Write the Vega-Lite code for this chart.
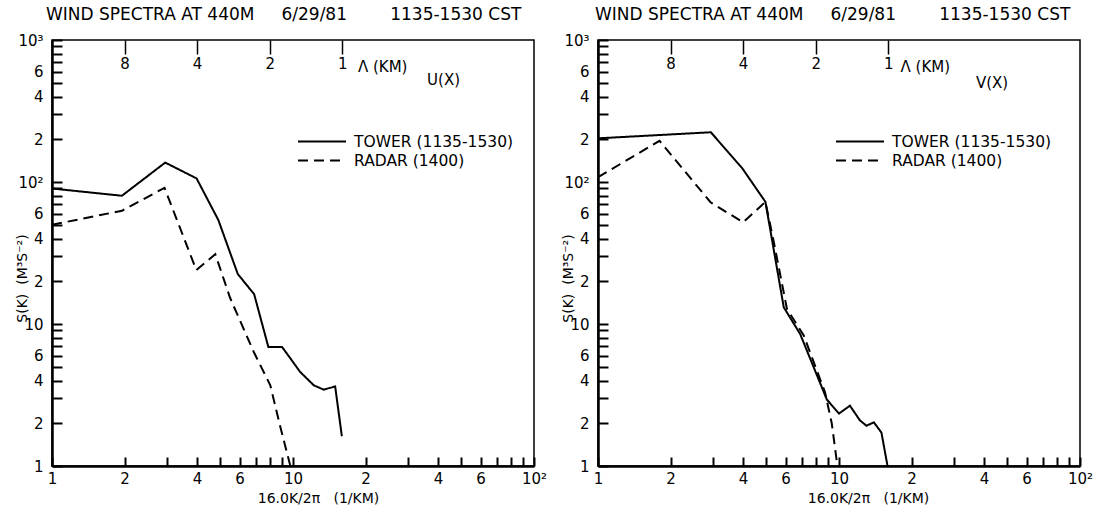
{
  "$schema": "https://vega.github.io/schema/vega-lite/v6.json",
  "background": "white",
  "autosize": {"type": "pad"},
  "padding": {"left": 14, "top": 5, "right": 0, "bottom": 0},
  "config": {
    "font": "DejaVu Sans",
    "view": {"stroke": "black", "strokeWidth": 1.5},
    "axis": {"grid": false, "labelColor": "black", "tickColor": "black", "domainColor": "black", "titleColor": "black", "labelFontSize": 15, "titleFontWeight": "normal", "labelOverlap": false, "labelFlush": false},
    "title": {"fontWeight": "normal", "fontSize": 17, "anchor": "start", "frame": "group", "color": "black"},
    "legend": {"labelColor": "black"}
  },
  "datasets": {
    "u": [
      {"series": "TOWER (1135-1530)", "k": 1, "s": 90},
      {"series": "TOWER (1135-1530)", "k": 1.95, "s": 80},
      {"series": "TOWER (1135-1530)", "k": 2.95, "s": 137},
      {"series": "TOWER (1135-1530)", "k": 3.98, "s": 106},
      {"series": "TOWER (1135-1530)", "k": 4.9, "s": 54},
      {"series": "TOWER (1135-1530)", "k": 5.9, "s": 22.5},
      {"series": "TOWER (1135-1530)", "k": 6.9, "s": 16.2},
      {"series": "TOWER (1135-1530)", "k": 7.9, "s": 6.9},
      {"series": "TOWER (1135-1530)", "k": 9.0, "s": 6.9},
      {"series": "TOWER (1135-1530)", "k": 9.7, "s": 5.8},
      {"series": "TOWER (1135-1530)", "k": 10.7, "s": 4.6},
      {"series": "TOWER (1135-1530)", "k": 12.2, "s": 3.7},
      {"series": "TOWER (1135-1530)", "k": 13.4, "s": 3.45},
      {"series": "TOWER (1135-1530)", "k": 14.96, "s": 3.63},
      {"series": "TOWER (1135-1530)", "k": 15.95, "s": 1.62},
      {"series": "RADAR (1400)", "k": 1, "s": 50},
      {"series": "RADAR (1400)", "k": 1.95, "s": 62.7},
      {"series": "RADAR (1400)", "k": 2.93, "s": 91},
      {"series": "RADAR (1400)", "k": 3.97, "s": 24},
      {"series": "RADAR (1400)", "k": 4.76, "s": 31},
      {"series": "RADAR (1400)", "k": 5.48, "s": 15.3},
      {"series": "RADAR (1400)", "k": 6.86, "s": 6.4},
      {"series": "RADAR (1400)", "k": 8.05, "s": 3.7},
      {"series": "RADAR (1400)", "k": 8.85, "s": 1.9},
      {"series": "RADAR (1400)", "k": 9.75, "s": 1.0}
    ],
    "v": [
      {"series": "TOWER (1135-1530)", "k": 1, "s": 203},
      {"series": "TOWER (1135-1530)", "k": 2.94, "s": 224},
      {"series": "TOWER (1135-1530)", "k": 3.98, "s": 124},
      {"series": "TOWER (1135-1530)", "k": 4.95, "s": 72.5},
      {"series": "TOWER (1135-1530)", "k": 5.9, "s": 13.1},
      {"series": "TOWER (1135-1530)", "k": 6.9, "s": 8.5},
      {"series": "TOWER (1135-1530)", "k": 8.9, "s": 2.94},
      {"series": "TOWER (1135-1530)", "k": 10, "s": 2.34},
      {"series": "TOWER (1135-1530)", "k": 11.1, "s": 2.66},
      {"series": "TOWER (1135-1530)", "k": 12.2, "s": 2.1},
      {"series": "TOWER (1135-1530)", "k": 13.0, "s": 1.92},
      {"series": "TOWER (1135-1530)", "k": 13.95, "s": 2.03},
      {"series": "TOWER (1135-1530)", "k": 15.0, "s": 1.72},
      {"series": "TOWER (1135-1530)", "k": 15.9, "s": 1.0},
      {"series": "RADAR (1400)", "k": 1, "s": 108},
      {"series": "RADAR (1400)", "k": 1.8, "s": 195},
      {"series": "RADAR (1400)", "k": 2.93, "s": 72},
      {"series": "RADAR (1400)", "k": 4.0, "s": 52},
      {"series": "RADAR (1400)", "k": 4.95, "s": 72.5},
      {"series": "RADAR (1400)", "k": 5.36, "s": 38},
      {"series": "RADAR (1400)", "k": 6.08, "s": 12.8},
      {"series": "RADAR (1400)", "k": 7.14, "s": 8.3},
      {"series": "RADAR (1400)", "k": 8.75, "s": 3.3},
      {"series": "RADAR (1400)", "k": 9.33, "s": 2.0},
      {"series": "RADAR (1400)", "k": 9.85, "s": 1.0}
    ],
    "u_notes": [
      {"label": "Λ (KM)", "k": 18.6, "s": 650},
      {"label": "U(X)", "k": 36, "s": 525}
    ],
    "v_notes": [
      {"label": "Λ (KM)", "k": 18, "s": 650},
      {"label": "V(X)", "k": 37, "s": 500}
    ]
  },
  "spacing": 64,
  "bounds": "flush",
  "resolve": {"scale": {"strokeDash": "independent"}, "legend": {"strokeDash": "independent"}},
  "hconcat": [
    {
      "width": 482, "height": 426,
      "title": {"text": "WIND SPECTRA AT 440M\u00a0\u00a0\u00a0\u00a0\u00a06/29/81\u00a0\u00a0\u00a0\u00a0\u00a0\u00a0\u00a0\u00a01135-1530 CST", "dx": -6, "offset": 9},
      "resolve": {"axis": {"x": "independent"}},
      "layer": [
        {
          "data": {"name": "u"},
          "mark": {"type": "line", "color": "black", "strokeWidth": 2, "clip": true},
          "encoding": {
            "x": {"field": "k", "type": "quantitative", "scale": {"type": "log", "domain": [1, 100]},
              "axis": {"orient": "bottom", "values": [1,2,3,4,5,6,7,8,9,10,20,30,40,50,60,70,80,90,100],
                "labelExpr": "datum.value == 1 ? '1' : datum.value == 10 ? '10' : datum.value == 100 ? '10²' : indexof([2,4,6,20,40,60], datum.value) >= 0 ? substring(toString(datum.value), 0, 1) : ''",
                "tickSize": -9, "tickWidth": 2, "labelPadding": 14, "domainWidth": 2.5, "title": "16.0K/2π\u00a0\u00a0\u00a0(1/KM)", "titleFontSize": 14, "titlePadding": 5, "titleX": 266}},
            "y": {"field": "s", "type": "quantitative", "scale": {"type": "log", "domain": [1, 1000]},
              "axis": {"values": [1,2,3,4,5,6,7,8,9,10,20,30,40,50,60,70,80,90,100,200,300,400,500,600,700,800,900,1000],
                "labelExpr": "datum.value == 1 ? '1' : datum.value == 10 ? '10' : datum.value == 100 ? '10²' : datum.value == 1000 ? '10³' : indexof([2,4,6,20,40,60,200,400,600], datum.value) >= 0 ? substring(toString(datum.value), 0, 1) : ''",
                "tickSize": -10, "tickWidth": 2, "labelPadding": 19, "domainWidth": 2.5, "title": "S(K)\u00a0\u00a0(M³S⁻²)", "titleFontSize": 14, "titleX": -30, "titleY": 238, "titleBaseline": "middle"}},
            "strokeDash": {"field": "series", "type": "nominal",
              "scale": {"domain": ["TOWER (1135-1530)", "RADAR (1400)"], "range": [[1, 0], [10, 6]]},
              "legend": {"orient": "none", "legendX": 245, "legendY": 92, "title": null, "symbolType": "stroke", "symbolSize": 2304, "symbolStrokeWidth": 2, "symbolStrokeColor": "black", "labelFontSize": 15.5, "labelOffset": 7, "clipHeight": 19, "rowPadding": 0, "padding": 0}}
          }
        },
        {
          "data": {"name": "u_notes"},
          "mark": {"type": "text", "align": "left", "baseline": "middle", "fontSize": 15, "color": "black"},
          "encoding": {
            "x": {"field": "k", "type": "quantitative", "scale": {"type": "log", "domain": [1, 100]},
              "axis": {"orient": "top", "values": [2, 4, 8, 16], "labelExpr": "datum.value < 3 ? '8' : datum.value < 6 ? '4' : datum.value < 12 ? '2' : '1'",
                "tickSize": -14, "tickWidth": 1.5, "labelPadding": -17, "domain": false, "title": null}},
            "y": {"field": "s", "type": "quantitative", "scale": {"type": "log", "domain": [1, 1000]}},
            "text": {"field": "label"}
          }
        }
      ]
    },
    {
      "width": 482, "height": 426,
      "title": {"text": "WIND SPECTRA AT 440M\u00a0\u00a0\u00a0\u00a0\u00a06/29/81\u00a0\u00a0\u00a0\u00a0\u00a0\u00a0\u00a0\u00a01135-1530 CST", "dx": -3, "offset": 9},
      "resolve": {"axis": {"x": "independent"}},
      "layer": [
        {
          "data": {"name": "v"},
          "mark": {"type": "line", "color": "black", "strokeWidth": 2, "clip": true},
          "encoding": {
            "x": {"field": "k", "type": "quantitative", "scale": {"type": "log", "domain": [1, 100]},
              "axis": {"orient": "bottom", "values": [1,2,3,4,5,6,7,8,9,10,20,30,40,50,60,70,80,90,100],
                "labelExpr": "datum.value == 1 ? '1' : datum.value == 10 ? '10' : datum.value == 100 ? '10²' : indexof([2,4,6,20,40,60], datum.value) >= 0 ? substring(toString(datum.value), 0, 1) : ''",
                "tickSize": -9, "tickWidth": 2, "labelPadding": 14, "domainWidth": 2.5, "title": "16.0K/2π\u00a0\u00a0\u00a0(1/KM)", "titleFontSize": 14, "titlePadding": 5, "titleX": 270}},
            "y": {"field": "s", "type": "quantitative", "scale": {"type": "log", "domain": [1, 1000]},
              "axis": {"values": [1,2,3,4,5,6,7,8,9,10,20,30,40,50,60,70,80,90,100,200,300,400,500,600,700,800,900,1000],
                "labelExpr": "datum.value == 1 ? '1' : datum.value == 10 ? '10' : datum.value == 100 ? '10²' : datum.value == 1000 ? '10³' : indexof([2,4,6,20,40,60,200,400,600], datum.value) >= 0 ? substring(toString(datum.value), 0, 1) : ''",
                "tickSize": -10, "tickWidth": 2, "labelPadding": 19, "domainWidth": 2.5, "title": "S(K)\u00a0\u00a0(M³S⁻²)", "titleFontSize": 14, "titleX": -30, "titleY": 238, "titleBaseline": "middle"}},
            "strokeDash": {"field": "series", "type": "nominal",
              "scale": {"domain": ["TOWER (1135-1530)", "RADAR (1400)"], "range": [[1, 0], [10, 6]]},
              "legend": {"orient": "none", "legendX": 237, "legendY": 92, "title": null, "symbolType": "stroke", "symbolSize": 2304, "symbolStrokeWidth": 2, "symbolStrokeColor": "black", "labelFontSize": 15.5, "labelOffset": 7, "clipHeight": 19, "rowPadding": 0, "padding": 0}}
          }
        },
        {
          "data": {"name": "v_notes"},
          "mark": {"type": "text", "align": "left", "baseline": "middle", "fontSize": 15, "color": "black"},
          "encoding": {
            "x": {"field": "k", "type": "quantitative", "scale": {"type": "log", "domain": [1, 100]},
              "axis": {"orient": "top", "values": [2, 4, 8, 16], "labelExpr": "datum.value < 3 ? '8' : datum.value < 6 ? '4' : datum.value < 12 ? '2' : '1'",
                "tickSize": -14, "tickWidth": 1.5, "labelPadding": -17, "domain": false, "title": null}},
            "y": {"field": "s", "type": "quantitative", "scale": {"type": "log", "domain": [1, 1000]}},
            "text": {"field": "label"}
          }
        }
      ]
    }
  ]
}
